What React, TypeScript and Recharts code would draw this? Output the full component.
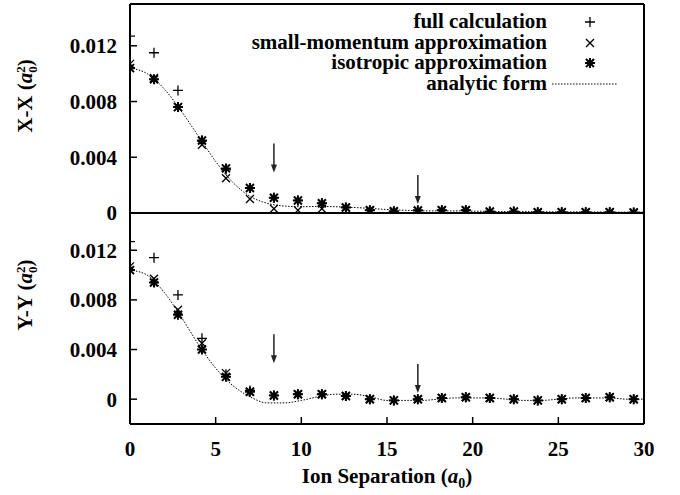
import React from "react";
import { ComposedChart, Scatter, Line, XAxis, YAxis } from "recharts";

const FONT = '"Liberation Serif", "DejaVu Serif", serif';

// Ion separation (a0) of the computed points
const separation = [
  0, 1.4, 2.8, 4.2, 5.6, 7.0, 8.4, 9.8, 11.2, 12.6, 14.0, 15.4, 16.8, 18.2,
  19.6, 21.0, 22.4, 23.8, 25.2, 26.6, 28.0, 29.4,
];

// X-X panel
const xxFull = [
  0.0127, 0.0115, 0.0088, 0.0052, 0.0031, 0.0018, 0.0011, 0.0009, 0.0007,
  0.0004, 0.0002, 0.0001, 0.0002, 0.0002, 0.0002, 0.0001, 0.0001, 0.00005,
  0.00005, 0.00005, 0.00005, 0.00003,
];
const xxSmall = [
  0.0107, 0.0097, 0.0076, 0.0049, 0.0025, 0.001, 0.0003, 0.0002, 0.0003,
  0.0004, 0.0002, 0.0001, 0.00015, 0.0002, 0.0002, 0.0001, 0.0001, 0.00005,
  0.00005, 0.00005, 0.00005, 0.00003,
];
const xxIso = [
  0.0104, 0.0096, 0.0076, 0.0052, 0.0032, 0.0018, 0.0011, 0.0009, 0.0007,
  0.0004, 0.0002, 0.00012, 0.00018, 0.0002, 0.0002, 0.0001, 0.0001, 0.00005,
  0.00005, 0.00005, 0.00005, 0.00003,
];

// Y-Y panel
const yyFull = [
  0.0127, 0.0114, 0.0084, 0.0049, 0.002, 0.0007, 0.0003, 0.0004, 0.0004,
  0.00025, 0.0, -0.0001, 0.0, 0.0001, 0.00015, 0.0001, 0.0, -0.0001, 0.0,
  0.0001, 0.00015, 0.0,
];
const yySmall = [
  0.0107, 0.0097, 0.0072, 0.0045, 0.0021, 0.0006, 0.0003, 0.0004, 0.0004,
  0.00025, 0.0, -0.0001, 0.0, 0.0001, 0.00015, 0.0001, 0.0, -0.0001, 0.0,
  0.0001, 0.00015, 0.0,
];
const yyIso = [
  0.0104, 0.0094, 0.0068, 0.004, 0.0018, 0.0006, 0.0003, 0.0004, 0.0004,
  0.00025, 0.0, -0.0001, 0.0, 0.0001, 0.00015, 0.0001, 0.0, -0.0001, 0.0,
  0.0001, 0.00015, 0.0,
];

// analytic form
const analyticSep = [
  0, 1, 2, 3, 4, 5, 6, 7, 8, 9, 10, 11, 12, 13, 14, 15, 16, 17, 18, 19, 20,
  21, 22, 23, 24, 25, 26, 27, 28, 29, 30,
];
const xxAnalytic = [
  0.0104, 0.01, 0.0089, 0.0073, 0.0055, 0.0037, 0.0022, 0.0012, 0.0007,
  0.0005, 0.00045, 0.00047, 0.00045, 0.0004, 0.00033, 0.00025, 0.0002,
  0.00016, 0.00015, 0.00015, 0.00013, 0.00012, 0.0001, 0.0001, 0.00009,
  0.00008, 0.00008, 0.00007, 0.00007, 0.00006, 0.00006,
];
const yyAnalytic = [
  0.0104, 0.01, 0.0086, 0.0066, 0.0044, 0.0025, 0.0011, 0.0002, -0.0003,
  -0.0003, -0.0001, 0.0002, 0.0004, 0.0004, 0.0002, -0.0001, -0.0001,
  -0.0001, 0.0, 0.0001, 0.0001, 0.0001, 0.0, -0.0001, -0.0001, 0.0, 0.0001,
  0.0001, 0.0001, 0.0, 0.0,
];

// arrows marking special separations (tip height per panel)
const arrowSep = [8.4, 16.8];
const xxArrowTip = [0.0029, 0.00065];
const yyArrowTip = [0.0029, 0.0005];

const xTicks = [0, 5, 10, 15, 20, 25, 30];
const yTicks = [0, 0.004, 0.008, 0.012];
const seriesNames = [
  "full calculation",
  "small-momentum approximation",
  "isotropic approximation",
  "analytic form",
];

const toPoints = (xs: number[], ys: number[]) =>
  xs.map((x, i) => ({ x, y: ys[i] }));

// marker shapes
const PlusMark = ({ cx, cy }: any) => (
  <path
    d={`M${cx - 5},${cy}h10M${cx},${cy - 5}v10`}
    stroke="#000"
    strokeWidth={1.3}
    fill="none"
  />
);
const CrossMark = ({ cx, cy }: any) => (
  <path
    d={`M${cx - 4},${cy - 4}l8,8M${cx - 4},${cy + 4}l8,-8`}
    stroke="#000"
    strokeWidth={1.3}
    fill="none"
  />
);
const StarMark = ({ cx, cy }: any) => (
  <path
    d={`M${cx - 5},${cy}h10M${cx},${cy - 5}v10M${cx - 4},${cy - 4}l8,8M${cx - 4},${cy + 4}l8,-8`}
    stroke="#000"
    strokeWidth={2}
    fill="none"
  />
);
const ArrowMark = ({ cx, cy }: any) => (
  <g>
    <line x1={cx} y1={cy - 29} x2={cx} y2={cy - 6} stroke="#222" strokeWidth={1.5} />
    <path d={`M${cx - 3},${cy - 8}L${cx},${cy}L${cx + 3},${cy - 8}Z`} fill="#222" />
  </g>
);

const tickStyle = { fontSize: 21, fontWeight: "bold", fill: "#000", fontFamily: FONT };
const axisLine = { stroke: "#000", strokeWidth: 2 };

type PanelProps = {
  full: number[];
  small: number[];
  iso: number[];
  analytic: number[];
  arrowTip: number[];
  domain: [number, number];
  height: number;
  topAxisHeight: number;
  bottomAxisHeight: number;
  showXLabels: boolean;
};

const Panel = ({
  full,
  small,
  iso,
  analytic,
  arrowTip,
  domain,
  height,
  topAxisHeight,
  bottomAxisHeight,
  showXLabels,
}: PanelProps) => (
  <ComposedChart
    width={680}
    height={height}
    margin={{ top: 0, right: 0, bottom: 0, left: 0 }}
  >
    <XAxis
      xAxisId="t"
      orientation="top"
      type="number"
      dataKey="x"
      domain={[0, 30]}
      ticks={xTicks}
      interval={0}
      allowDataOverflow
      height={topAxisHeight}
      tickSize={-7}
      tick={false}
      axisLine={axisLine}
      tickLine={{ stroke: "#000", strokeWidth: 1.5 }}
    />
    <XAxis
      type="number"
      dataKey="x"
      domain={[0, 30]}
      ticks={xTicks}
      interval={0}
      allowDataOverflow
      height={bottomAxisHeight}
      tickSize={-7}
      tickMargin={24}
      tick={showXLabels ? tickStyle : false}
      axisLine={axisLine}
      tickLine={{ stroke: "#000", strokeWidth: 1.5 }}
    />
    <YAxis
      type="number"
      domain={domain}
      ticks={yTicks}
      interval={0}
      allowDataOverflow
      width={130}
      tickSize={-7}
      tickMargin={20}
      tick={tickStyle}
      tickFormatter={(v: number) => String(v)}
      axisLine={axisLine}
      tickLine={{ stroke: "#000", strokeWidth: 1.5 }}
    />
    <YAxis
      yAxisId="r"
      orientation="right"
      type="number"
      domain={domain}
      ticks={yTicks}
      interval={0}
      allowDataOverflow
      width={36}
      tickSize={-7}
      tick={false}
      axisLine={axisLine}
      tickLine={{ stroke: "#000", strokeWidth: 1.5 }}
    />
    <Line
      data={toPoints(analyticSep, analytic)}
      dataKey="y"
      type="monotone"
      stroke="#000"
      strokeWidth={1}
      strokeDasharray="1.5 1.5"
      dot={false}
      isAnimationActive={false}
      name={seriesNames[3]}
    />
    <Scatter
      data={toPoints(separation, full)}
      dataKey="y"
      shape={PlusMark}
      isAnimationActive={false}
      name={seriesNames[0]}
    />
    <Scatter
      data={toPoints(separation, small)}
      dataKey="y"
      shape={CrossMark}
      isAnimationActive={false}
      name={seriesNames[1]}
    />
    <Scatter
      data={toPoints(separation, iso)}
      dataKey="y"
      shape={StarMark}
      isAnimationActive={false}
      name={seriesNames[2]}
    />
    <Scatter
      data={toPoints(arrowSep, arrowTip)}
      dataKey="y"
      shape={ArrowMark}
      isAnimationActive={false}
      legendType="none"
    />
  </ComposedChart>
);

const legendSymbols = [
  <path d="M5,10h10M10,5v10" stroke="#000" strokeWidth={1.3} />,
  <path d="M6,6l8,8M6,14l8,-8" stroke="#000" strokeWidth={1.3} />,
  <path d="M5,10h10M10,5v10M6,6l8,8M6,14l8,-8" stroke="#000" strokeWidth={2} />,
];

const legendRowY = [22, 43, 63, 84];

const A0 = ({ sup }: { sup?: boolean }) => (
  <>
    <i>a</i>
    {sup ? (
      <span
        style={{
          display: "inline-flex",
          flexDirection: "column",
          fontSize: 13,
          lineHeight: "12px",
          verticalAlign: "middle",
        }}
      >
        <span>2</span>
        <span>0</span>
      </span>
    ) : (
      <sub style={{ fontSize: 14 }}>0</sub>
    )}
  </>
);

const textBase: React.CSSProperties = {
  position: "absolute",
  fontFamily: FONT,
  fontWeight: "bold",
  fontSize: 21,
  color: "#000",
  whiteSpace: "nowrap",
  lineHeight: "20px",
};

export default function App() {
  return (
    <div
      style={{
        position: "absolute",
        left: 0,
        top: 0,
        width: 680,
        height: 495,
        background: "#fff",
        fontFamily: FONT,
      }}
    >
      <div style={{ position: "absolute", left: 0, top: 0 }}>
        <Panel
          full={xxFull}
          small={xxSmall}
          iso={xxIso}
          analytic={xxAnalytic}
          arrowTip={xxArrowTip}
          domain={[0, 0.015]}
          height={237}
          topAxisHeight={4}
          bottomAxisHeight={24}
          showXLabels={false}
        />
      </div>
      <div style={{ position: "absolute", left: 0, top: 211 }}>
        <Panel
          full={yyFull}
          small={yySmall}
          iso={yyIso}
          analytic={yyAnalytic}
          arrowTip={yyArrowTip}
          domain={[-0.002, 0.015]}
          height={284}
          topAxisHeight={2}
          bottomAxisHeight={71}
          showXLabels
        />
      </div>

      {/* legend */}
      {seriesNames.map((name, i) => (
        <React.Fragment key={name}>
          <div
            style={{
              ...textBase,
              right: 680 - 547,
              top: legendRowY[i] - 9,
              lineHeight: "17px",
              textAlign: "right",
            }}
          >
            {name}
          </div>
          {i < 3 ? (
            <svg
              width={20}
              height={20}
              style={{ position: "absolute", left: 580, top: legendRowY[i] - 10 }}
            >
              {legendSymbols[i]}
            </svg>
          ) : (
            <svg
              width={66}
              height={4}
              style={{ position: "absolute", left: 552, top: legendRowY[i] - 2 }}
            >
              <line
                x1={0}
                y1={2}
                x2={66}
                y2={2}
                stroke="#000"
                strokeWidth={1}
                strokeDasharray="1.5 1.5"
              />
            </svg>
          )}
        </React.Fragment>
      ))}

      {/* axis titles */}
      <div
        style={{
          ...textBase,
          left: 27,
          top: 96,
          transform: "translate(-50%, -50%) rotate(-90deg)",
        }}
      >
        X-X (<A0 sup />)
      </div>
      <div
        style={{
          ...textBase,
          left: 27,
          top: 295,
          transform: "translate(-50%, -50%) rotate(-90deg)",
        }}
      >
        Y-Y (<A0 sup />)
      </div>
      <div
        style={{
          ...textBase,
          left: 387,
          top: 480,
          transform: "translate(-50%, -50%)",
        }}
      >
        Ion Separation (<A0 />)
      </div>
    </div>
  );
}
